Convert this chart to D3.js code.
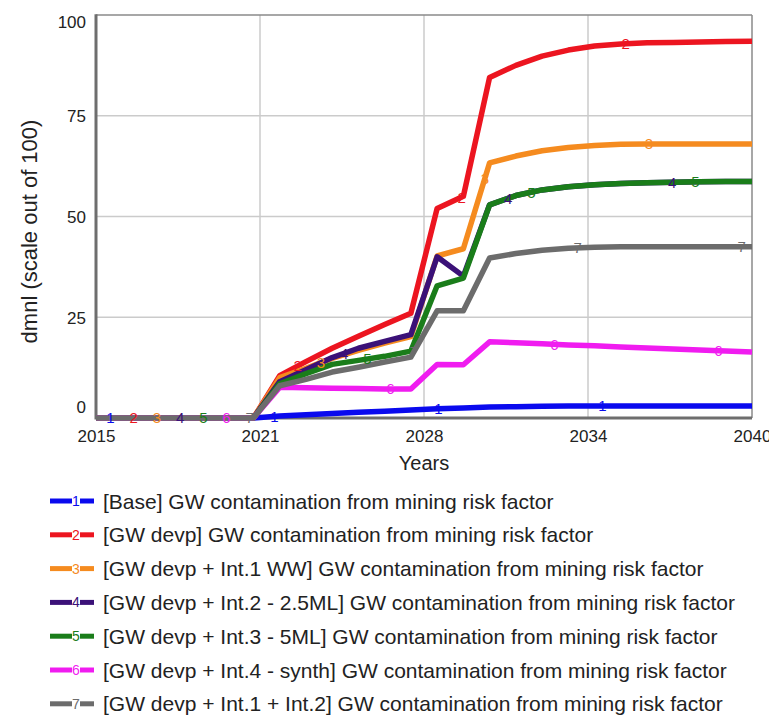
<!DOCTYPE html>
<html><head><meta charset="utf-8">
<script src="https://cdn.jsdelivr.net/npm/d3@7/dist/d3.min.js"></script>
<style>body{margin:0;background:#fff}svg{display:block}</style>
</head><body><svg id="c" width="769" height="715"></svg>
<script>
const years = [2015,2016,2017,2018,2019,2020,2021,2022,2023,2024,2025,2026,2027,2028,2029,2030,2031,2032,2033,2034,2035,2036,2037,2038,2039,2040];
const baseValues   = [0,0,0,0,0,0,0, 0.5,0.8,1.1,1.4,1.7,2.0,2.3,2.5,2.7,2.8,2.9,3.0,3.0,3.0,3.0,3.0,3.0,3.0,3.0];
const gwDevp       = [0,0,0,0,0,0,0, 10.5,14,17.3,20.3,23.2,26,52,55,84.5,87.5,89.8,91.3,92.3,92.8,93.1,93.2,93.3,93.4,93.5];
const int1WW       = [0,0,0,0,0,0,0, 10,12.3,14.8,16.8,18.6,20.2,40.2,42,63.3,65,66.3,67.1,67.6,67.9,68,68,68,68,68];
const int2ML25     = [0,0,0,0,0,0,0, 9,12,15,17.3,19,20.7,40,35.2,52.9,55.2,56.6,57.4,57.9,58.2,58.4,58.5,58.6,58.7,58.7];
const int3ML5      = [0,0,0,0,0,0,0, 8.5,11,13.3,14.3,15.3,16.6,32.8,34.7,52.9,55.2,56.6,57.4,57.9,58.2,58.4,58.5,58.6,58.7,58.7];
const int4Synth    = [0,0,0,0,0,0,0, 7.6,7.5,7.4,7.3,7.2,7.2,13.3,13.2,18.9,18.7,18.4,18.1,17.9,17.6,17.4,17.1,16.9,16.6,16.4];
const int1Int2     = [0,0,0,0,0,0,0, 8,9.6,11.4,12.6,13.9,15.1,26.6,26.6,39.7,40.8,41.6,42.1,42.4,42.5,42.5,42.5,42.5,42.5,42.5];

const seriesValues = [baseValues, gwDevp, int1WW, int2ML25, int3ML5, int4Synth, int1Int2];
const seriesNames = [
  "[Base] GW contamination from mining risk factor",
  "[GW devp] GW contamination from mining risk factor",
  "[GW devp + Int.1 WW] GW contamination from mining risk factor",
  "[GW devp + Int.2 - 2.5ML] GW contamination from mining risk factor",
  "[GW devp + Int.3 - 5ML] GW contamination from mining risk factor",
  "[GW devp + Int.4 - synth] GW contamination from mining risk factor",
  "[GW devp + Int.1 + Int.2] GW contamination from mining risk factor"
];
const seriesColors = ["#0a0aee","#ec1520","#f58b1f","#3b1178","#1a7d1a","#f01cf0","#6c6c6c"];
const xTickValues = [2015, 2021.25, 2027.5, 2033.75, 2040];
const xTickLabels = ["2015","2021","2028","2034","2040"];
const yTickValues = [0,25,50,75,100];
const yTickLabels = ["0","25","50","75","100"];

const svg = d3.select("#c");
const L = 96, R = 752, T = 15, B = 418;
const x = d3.scaleLinear().domain([2015, 2040]).range([L, R]);
const y = d3.scaleLinear().domain([0, 100]).range([B, T]);
const font = "'Liberation Sans', Arial, Helvetica, sans-serif";

// grid
const g = svg.append("g");
g.selectAll("line.vx").data(xTickValues.slice(1, -1)).enter().append("line")
  .attr("x1", d => x(d)).attr("x2", d => x(d)).attr("y1", T).attr("y2", B)
  .attr("stroke", "#cbcbcb").attr("stroke-width", 1.5);
g.selectAll("line.hy").data(yTickValues.slice(1, -1)).enter().append("line")
  .attr("x1", L).attr("x2", R).attr("y1", d => y(d)).attr("y2", d => y(d))
  .attr("stroke", "#cbcbcb").attr("stroke-width", 1.5);

// frame
svg.append("line").attr("x1", L).attr("x2", R).attr("y1", T).attr("y2", T).attr("stroke", "#8a8a8a").attr("stroke-width", 1.5);
svg.append("line").attr("x1", R).attr("x2", R).attr("y1", T).attr("y2", B).attr("stroke", "#8a8a8a").attr("stroke-width", 1.5);
svg.append("line").attr("x1", L).attr("x2", L).attr("y1", T - 0.75).attr("y2", B + 1.5).attr("stroke", "#6e6e6e").attr("stroke-width", 3);
svg.append("line").attr("x1", L).attr("x2", R).attr("y1", B).attr("y2", B).attr("stroke", "#6e6e6e").attr("stroke-width", 3);

// axes via d3 axis (styled)
const xAxis = d3.axisBottom(x).tickValues(xTickValues).tickFormat((d, i) => xTickLabels[i]).tickSize(0).tickPadding(0);
const xa = svg.append("g").attr("transform", `translate(0,${B})`).call(xAxis);
xa.select(".domain").remove();
xa.selectAll("text").attr("font-family", font).attr("font-size", 17).attr("fill", "#222")
  .attr("dy", null).attr("y", 24);

const yAxis = d3.axisLeft(y).tickValues(yTickValues).tickFormat((d, i) => yTickLabels[i]).tickSize(0).tickPadding(0);
const ya = svg.append("g").attr("transform", `translate(${L - 10},0)`).call(yAxis);
ya.select(".domain").remove();
ya.selectAll("text").attr("font-family", font).attr("font-size", 17).attr("fill", "#222")
  .attr("dy", "0.35em").attr("x", 0)
  .attr("y", d => d === 100 ? 7 : (d === 0 ? -11 : 0));

// axis titles
svg.append("text").attr("x", (L + R) / 2).attr("y", 470).attr("text-anchor", "middle")
  .attr("font-family", font).attr("font-size", 20).attr("fill", "#222").text("Years");
svg.append("text").attr("transform", `translate(37,${(T + B) / 2 + 15}) rotate(-90)`).attr("text-anchor", "middle")
  .attr("font-family", font).attr("font-size", 22).attr("fill", "#222").text("dmnl (scale out of 100)");

// lines
const line = d3.line().x(d => x(d[0])).y(d => y(d[1])).curve(d3.curveLinear);
seriesValues.forEach((vals, i) => {
  svg.append("path").datum(years.map((yr, j) => [yr, vals[j]]))
    .attr("d", line).attr("fill", "none").attr("stroke", seriesColors[i])
    .attr("stroke-width", 5.5).attr("stroke-linejoin", "round").attr("stroke-linecap", "butt");
});

// on-line number labels
function valueAt(vals, t) {
  const j = Math.min(years.length - 2, Math.max(0, d3.bisectRight(years, t) - 1));
  const f = (t - years[j]) / (years[j + 1] - years[j]);
  return vals[j] + (vals[j + 1] - vals[j]) * f;
}
seriesValues.forEach((vals, i) => {
  for (let k = 0; k < 4; k++) {
    const t = 2015.55 + i * 0.885 + k * 6.25;
    if (t > 2040) continue;
    svg.append("text").attr("x", x(t)).attr("y", y(valueAt(vals, t)))
      .attr("dy", "0.36em").attr("text-anchor", "middle")
      .attr("font-family", font).attr("font-size", 15).attr("fill", seriesColors[i])
      .text(i + 1);
  }
});

// legend
const lg = svg.append("g");
seriesNames.forEach((name, i) => {
  const cy = 501 + i * 33.8;
  lg.append("line").attr("x1", 50).attr("x2", 72).attr("y1", cy).attr("y2", cy)
    .attr("stroke", seriesColors[i]).attr("stroke-width", 5);
  lg.append("text").attr("x", 76).attr("y", cy).attr("dy", "0.36em").attr("text-anchor", "middle")
    .attr("font-family", font).attr("font-size", 14).attr("fill", seriesColors[i]).text(i + 1);
  lg.append("line").attr("x1", 80).attr("x2", 94).attr("y1", cy).attr("y2", cy)
    .attr("stroke", seriesColors[i]).attr("stroke-width", 5);
  lg.append("text").attr("x", 103).attr("y", cy).attr("dy", "0.36em")
    .attr("font-family", font).attr("font-size", 21).attr("fill", "#222").text(name);
});
</script></body></html>
